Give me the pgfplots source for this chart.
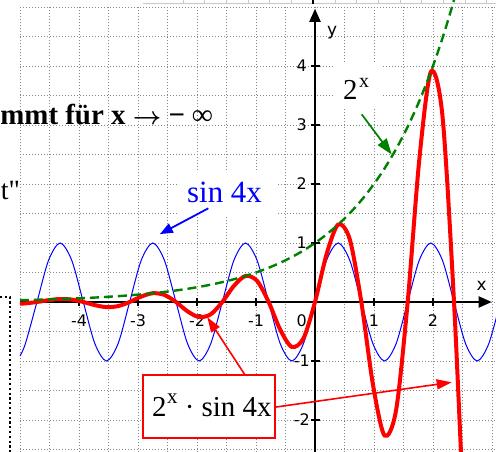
\documentclass[border=0pt]{standalone}
\usepackage{fontspec}
\setmainfont{Liberation Serif}
\newfontfamily\dvsans{DejaVu Sans}
\usepackage{pgfplots}
\usepackage{pgfplotstable}
\pgfplotsset{compat=1.18}
\usetikzlibrary{arrows.meta}

\definecolor{gridgray}{RGB}{135,135,135}
\definecolor{remnant}{RGB}{200,200,200}
\definecolor{expgreen}{RGB}{0,128,0}
\definecolor{sinblue}{RGB}{0,0,255}
\definecolor{prodred}{RGB}{255,0,0}

\tikzset{
  gridline/.style={gridgray, line width=0.7bp, dash pattern=on 1bp off 2bp},
  tlabel/.style={font=\dvsans\fontsize{16}{16}\selectfont, inner sep=0pt},
}

% y = sin 4x
\pgfplotstableread{
x y
-5.00000 -0.91295
-4.90874 -0.70711
-4.71239 0
-4.51604 0.70711
-4.31969 1
-4.12334 0.70711
-3.92699 0
-3.73064 -0.70711
-3.53429 -1
-3.33794 -0.70711
-3.14159 0
-2.94524 0.70711
-2.74889 1
-2.55254 0.70711
-2.35619 0
-2.15984 -0.70711
-1.96350 -1
-1.76715 -0.70711
-1.57080 0
-1.37445 0.70711
-1.17810 1
-0.98175 0.70711
-0.78540 0
-0.58905 -0.70711
-0.39270 -1
-0.19635 -0.70711
0 0
0.19635 0.70711
0.39270 1
0.58905 0.70711
0.78540 0
0.98175 -0.70711
1.17810 -1
1.37445 -0.70711
1.57080 0
1.76715 0.70711
1.96350 1
2.15984 0.70711
2.35619 0
2.55254 -0.70711
2.74889 -1
2.94524 -0.70711
3.14159 0
}\sintab

% y = 2^x
\pgfplotstableread{
x y
-5.00000 0.03125
-4.90874 0.03329
-4.71239 0.03814
-4.51604 0.04370
-4.31969 0.05008
-4.12334 0.05738
-3.92699 0.06574
-3.73064 0.07533
-3.53429 0.08631
-3.33794 0.09890
-3.14159 0.11331
-2.94524 0.12983
-2.74889 0.14876
-2.55254 0.17045
-2.35619 0.19530
-2.15984 0.22378
-1.96350 0.25641
-1.76715 0.29379
-1.57080 0.33663
-1.37445 0.38569
-1.17810 0.44193
-0.98175 0.50636
-0.78540 0.58019
-0.58905 0.66478
-0.39270 0.76170
-0.19635 0.87275
0 1
0.19635 1.14580
0.39270 1.31285
0.58905 1.50426
0.78540 1.72357
0.98175 1.97486
1.17810 2.26281
1.37445 2.59273
1.57080 2.97068
1.76715 3.40381
1.96350 3.90009
2.15984 4.46872
2.35619 5.12026
2.55254 5.86680
}\exptab

% y = 2^x * sin 4x
\pgfplotstableread{
x y
-5.00000 -0.02853
-4.90874 -0.02354
-4.71239 0
-4.51604 0.03090
-4.31969 0.05008
-4.12334 0.04057
-3.92699 0
-3.73064 -0.05327
-3.53429 -0.08631
-3.33794 -0.06993
-3.14159 0
-2.94524 0.09180
-2.74889 0.14876
-2.55254 0.12053
-2.35619 0
-2.15984 -0.15824
-1.96350 -0.25641
-1.76715 -0.20774
-1.57080 0
-1.37445 0.27272
-1.17810 0.44193
-0.98175 0.35805
-0.78540 0
-0.58905 -0.47007
-0.39270 -0.76170
-0.19635 -0.61713
0 0
0.19635 0.81020
0.39270 1.31285
0.58905 1.06368
0.78540 0
0.98175 -1.39644
1.17810 -2.26281
1.37445 -1.83335
1.57080 0
1.76715 2.40687
1.96350 3.90009
2.15984 3.15987
2.35619 0
2.55254 -4.14847
2.74889 -6.72218
}\prodtab

\begin{document}
\begin{tikzpicture}
\begin{axis}[
  width=496bp, height=452bp, scale only axis,
  xmin=-5.33898, xmax=3.06780,
  ymin=-2.54237, ymax=5.11864,
  hide axis, clip=true,
]
% strip of a neighbouring frame along the top edge
\draw[remnant, line width=0.8bp] (axis cs:-2.915,5.068) -- (axis cs:3.1,5.068);
\pgfplotsinvokeforeach{0,...,14}{
  \draw[remnant, line width=0.8bp] (axis cs:{(183+21.7*#1-315)/59},5.068) -- (axis cs:{(183+21.7*#1-315)/59},5.13);
}
\draw[black, line width=1.5bp] (axis cs:-0.034,5.05) -- (axis cs:-0.034,5.13);

% dotted grid, step 0.5
\pgfplotsinvokeforeach{-5,-4.5,...,3}{
  \draw[gridline] (axis cs:#1,-2.6) -- (axis cs:#1,5);
}
\pgfplotsinvokeforeach{-2.5,-2,...,5}{
  \draw[gridline] (axis cs:-5,#1) -- (axis cs:3.1,#1);
}

% heavy dotted frame at the left border
\draw[black, line width=2.3bp, dash pattern=on 2.3bp off 2.5bp]
  (axis cs:-5.339,0.085) -- (axis cs:-5.169,0.085) -- (axis cs:-5.169,-2.6);

% text fragments on the left
\node[anchor=base east, inner sep=0pt, font=\bfseries\fontsize{29}{29}\selectfont]
  at (axis cs:-1.729,3.0) {mmt für x {\boldmath$\rightarrow$} − ∞};
\node[anchor=base east, inner sep=0pt, font=\fontsize{28}{28}\selectfont]
  at (axis cs:-4.998,1.729) {t\textquotedbl};

% tick labels
\pgfplotsinvokeforeach{-4,-3,-2,-1,1,2}{
  \node[tlabel, anchor=base] at (axis cs:#1,-0.415) {\ifnum#1<0 -\the\numexpr-#1\relax\else #1\fi};
}
\node[tlabel, anchor=base] at (axis cs:-0.225,-0.415) {0};
\pgfplotsinvokeforeach{-2,-1,1,2,3,4}{
  \node[tlabel, anchor=center] at (axis cs:-0.225,#1) {\ifnum#1<0 -\the\numexpr-#1\relax\else #1\fi};
}
\node[anchor=base west, inner sep=0pt, font=\dvsans\fontsize{17}{17}\selectfont] at (axis cs:0.203,4.525) {y};
\node[anchor=base west, inner sep=0pt, font=\dvsans\fontsize{17}{17}\selectfont] at (axis cs:2.734,0.203) {x};

% coordinate axes
\draw[black, line width=2bp, -{Triangle[length=13bp,width=11bp]}] (axis cs:-5,0) -- (axis cs:2.995,0);
\draw[black, line width=2bp, -{Triangle[length=13bp,width=11bp]}] (axis cs:0,-2.6) -- (axis cs:0,4.97);
\pgfplotsinvokeforeach{-4,-3,-2,-1,1,2}{
  \draw[black, line width=1.5bp] (axis cs:#1,-0.068) -- (axis cs:#1,0.068);
}
\pgfplotsinvokeforeach{-2,-1,1,2,3,4}{
  \draw[black, line width=1.5bp] (axis cs:-0.068,#1) -- (axis cs:0.085,#1);
}

% curves
\addplot[sinblue, line width=1bp, smooth] table {\sintab};
\addplot[prodred, line width=4bp, smooth] table {\prodtab};
\addplot[expgreen, line width=2.4bp, smooth, dash pattern=on 9bp off 5bp] table {\exptab};

% label 2^x
\fill[white] (axis cs:0.305,3.264) rectangle (axis cs:1.153,4.061);
\node[anchor=base west, inner sep=0pt, font=\fontsize{29}{29}\selectfont]
  at (axis cs:0.475,3.424) {2\hspace{1.5bp}\raisebox{12.5bp}{\fontsize{20}{20}\selectfont x}};
\draw[expgreen, line width=1.7bp, -{Triangle[length=16bp,width=11bp]}]
  (axis cs:0.792,3.181) -- (axis cs:1.30,2.50);

% label sin 4x
\fill[white] (axis cs:-2.305,1.475) rectangle (axis cs:-0.644,2.237);
\node[anchor=base west, inner sep=0pt, text=sinblue, font=\fontsize{31}{31}\selectfont]
  at (axis cs:-2.169,1.678) {sin 4x};
\draw[sinblue, line width=1.8bp, -{Triangle[length=13bp,width=10bp]}]
  (axis cs:-1.808,1.588) -- (axis cs:-2.63,1.15);

% boxed label 2^x * sin 4x
\draw[prodred, line width=2bp, fill=white]
  (axis cs:-2.915,-1.237) rectangle (axis cs:-0.678,-2.305);
\node[anchor=base west, inner sep=0pt, font=\fontsize{29}{29}\selectfont]
  at (axis cs:-2.763,-1.944) {2\hspace{0.5bp}\raisebox{13.5bp}{\fontsize{21}{21}\selectfont x} · sin 4x};
\draw[prodred, line width=1.6bp, -{Triangle[length=15bp,width=10bp]}]
  (axis cs:-1.186,-1.237) -- (axis cs:-1.825,-0.259);
\draw[prodred, line width=1.6bp, -{Triangle[length=15bp,width=10bp]}]
  (axis cs:-0.661,-1.780) -- (axis cs:2.317,-1.361);
\end{axis}
\pgfresetboundingbox
\path[use as bounding box] (current axis.south west) rectangle (current axis.north east);
\end{tikzpicture}
\end{document}
